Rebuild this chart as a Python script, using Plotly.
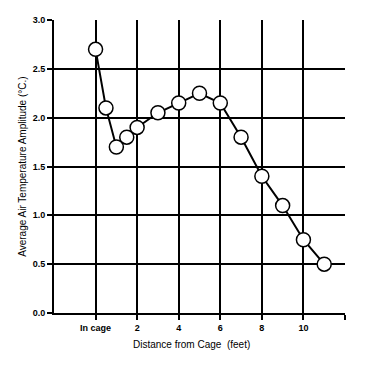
import plotly.graph_objects as go

distance_ft = [0, 0.5, 1, 1.5, 2, 3, 4, 5, 6, 7, 8, 9, 10, 11]
amplitude_c = [2.7, 2.1, 1.7, 1.8, 1.9, 2.05, 2.15, 2.25, 2.15, 1.8, 1.4, 1.1, 0.75, 0.5]
x_tick_vals = [0, 2, 4, 6, 8, 10, 12]
x_tick_text = ["In cage", "2", "4", "6", "8", "10", ""]
y_tick_vals = [0.0, 0.5, 1.0, 1.5, 2.0, 2.5, 3.0]
y_tick_text = ["0.0", "0.5", "1.0", "1.5", "2.0", "2.5", "3.0"]

fig = go.Figure()
fig.add_trace(go.Scatter(
    x=distance_ft, y=amplitude_c, mode="lines+markers",
    line=dict(color="black", width=2),
    marker=dict(size=14, color="white", line=dict(color="black", width=1.5)),
    showlegend=False, cliponaxis=False,
))

tickfont = dict(family="Liberation Sans, Arial, sans-serif", size=9, color="black", weight="bold")

fig.update_layout(
    width=374, height=371,
    margin=dict(l=46, r=37, t=12, b=66),
    paper_bgcolor="white", plot_bgcolor="white",
    xaxis=dict(
        range=[-2, 12], tickvals=x_tick_vals, ticktext=x_tick_text,
        showgrid=True, gridcolor="black", gridwidth=1.5,
        showline=True, linecolor="black", linewidth=2,
        ticks="outside", ticklen=5, tickwidth=2, tickcolor="black",
        tickfont=tickfont, zeroline=False, automargin=False,
    ),
    yaxis=dict(
        range=[0, 3.0], tickvals=y_tick_vals, ticktext=y_tick_text,
        showgrid=True, gridcolor="black", gridwidth=1.5,
        showline=True, linecolor="black", linewidth=2,
        ticks="outside", ticklen=5, tickwidth=2, tickcolor="black",
        tickfont=tickfont, zeroline=False, automargin=False,
    ),
    annotations=[
        dict(text="Distance from Cage  (feet)", xref="paper", yref="paper",
             x=0.473, y=-0.082, xanchor="center", yanchor="top", showarrow=False,
             font=dict(family="Liberation Sans, Arial, sans-serif", size=10, color="black")),
        dict(text="Average Air Temperature Amplitude (°C.)", xref="paper", yref="paper",
             x=-0.109, y=0.5, xanchor="center", yanchor="middle", showarrow=False, textangle=-90,
             font=dict(family="Liberation Sans, Arial, sans-serif", size=10, color="black")),
    ],
)

fig.write_html("out.html")
